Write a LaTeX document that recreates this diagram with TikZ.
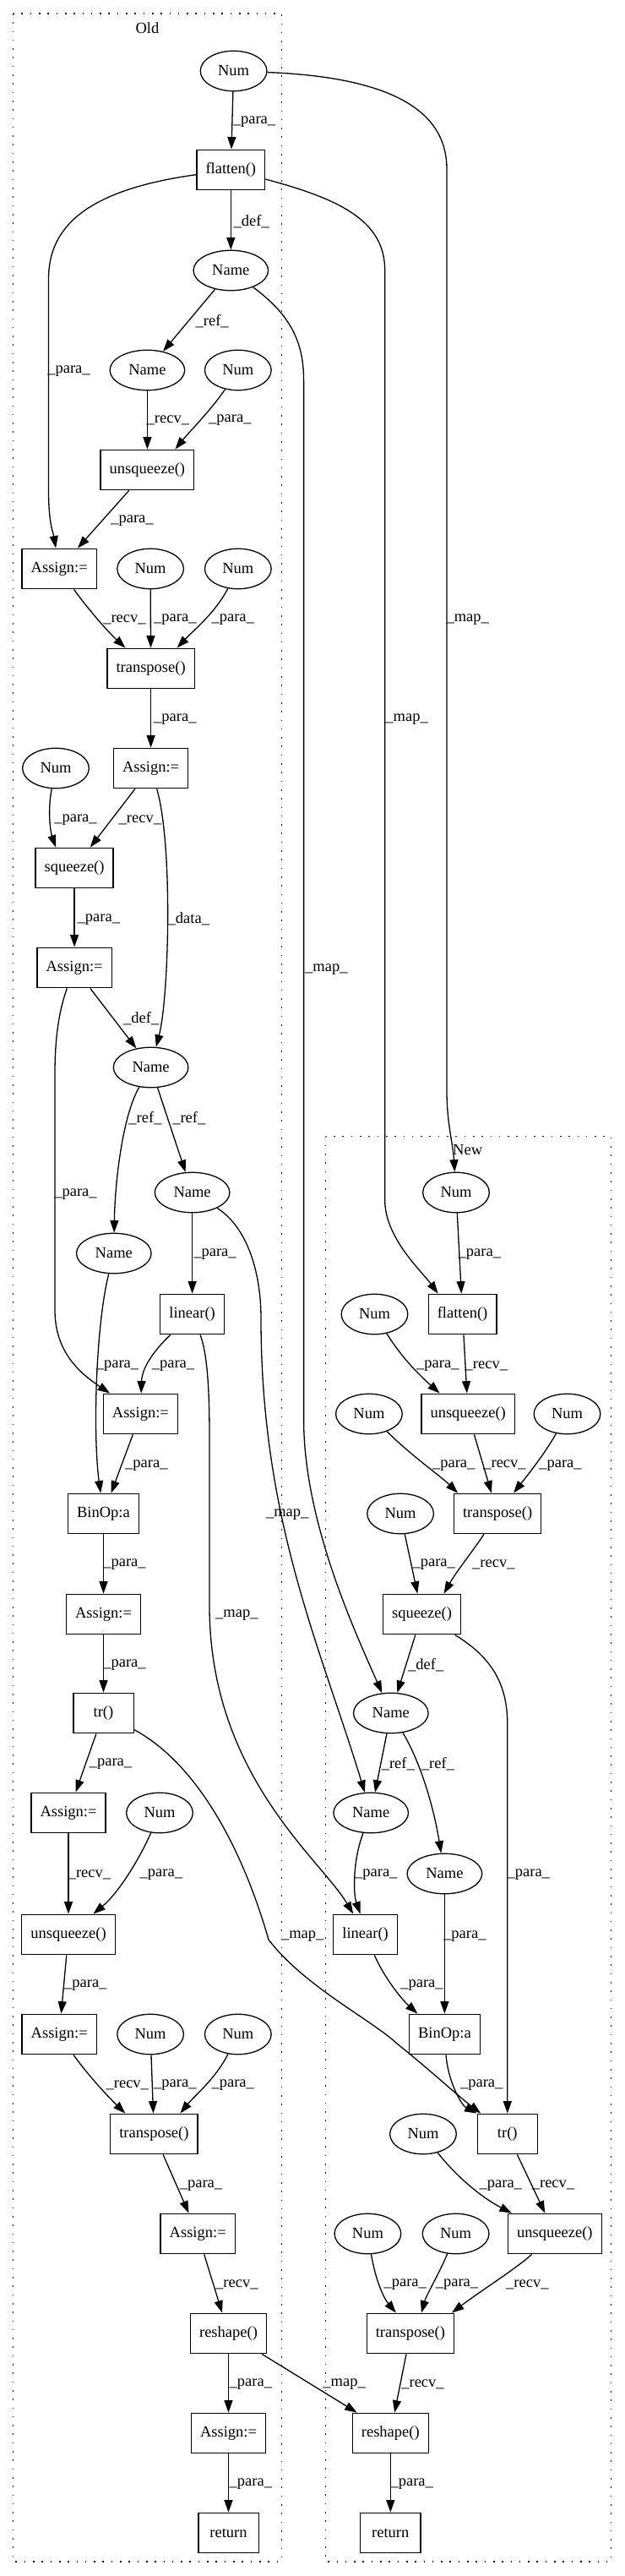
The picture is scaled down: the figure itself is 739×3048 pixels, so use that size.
\documentclass[tikz,border=0pt]{standalone}
\usepackage{fontspec}
\setmainfont{Liberation Serif}
\usetikzlibrary{arrows.meta, shapes.geometric}

\begin{document}
\begin{tikzpicture}[x=1pt, y=-1pt,
    every node/.style={font=\fontsize{18.5}{22}\selectfont},
    box/.style={draw, line width=1.3pt, rectangle, minimum width=71.3pt,
                minimum height=47.5pt, inner xsep=10.6pt, inner ysep=0pt},
    ell/.style={draw, line width=1.3pt, ellipse, minimum width=78.7pt,
                minimum height=47.5pt, inner sep=0pt},
    nm/.style={ell, minimum width=88.6pt},
    arr/.style={-{Triangle[length=14.5pt, width=10pt]}, line width=1.3pt},
    lbl/.style={inner sep=0pt},
    clus/.style={line width=1.3pt, dash pattern=on 1.6pt off 8.7pt}
]
    \useasboundingbox (0,0) rectangle (739,3048);

    % Clusters
    \draw[clus] (15.6,16) rectangle (333.2,3031);
    \node[lbl] (oldlbl) at (174.4,33) {Old};
    \draw[clus] (385.5,1344.5) rectangle (723.4,3031);
    \node[lbl] (newlbl) at (553.7,1361) {New};

    % Old
    \node[ell] (num1) at (276.6,84) {Num};
    \node[box] (fla1) at (273.3,201) {flatten()};
    \node[nm]  (nam1) at (273.3,320) {Name};
    \node[nm]  (nam2) at (174.4,438) {Name};
    \node[ell] (num2) at (281.8,438) {Num};
    \node[box] (uns1) at (174.4,556) {unsqueeze()};
    \node[box] (as1)  at (70.2,673)  {Assign:=};
    \node[ell] (num3) at (178.1,673) {Num};
    \node[ell] (num4) at (281.8,673) {Num};
    \node[box] (tra1) at (178.6,791) {transpose()};
    \node[box] (as2)  at (178.6,909) {Assign:=};
    \node[ell] (num5) at (66,909)    {Num};
    \node[box] (squ1) at (88.1,1027) {squeeze()};
    \node[box] (as3)  at (88.1,1145) {Assign:=};
    \node[nm]  (nam3) at (178.6,1263) {Name};
    \node[nm]  (nam4) at (227.6,1411) {Name};
    \node[nm]  (nam5) at (134.8,1483) {Name};
    \node[box] (lin1) at (227.6,1555) {linear()};
    \node[box] (as4)  at (166.4,1673) {Assign:=};
    \node[box] (bin1) at (122.5,1791) {BinOp:a};
    \node[box] (as5)  at (122.5,1910) {Assign:=};
    \node[box] (tr1)  at (122.5,2027) {tr()};
    \node[box] (as6)  at (81,2145)    {Assign:=};
    \node[ell] (num6) at (189,2145)   {Num};
    \node[box] (uns2) at (81,2289)    {unsqueeze()};
    \node[box] (as7)  at (70.2,2407)  {Assign:=};
    \node[ell] (num7) at (178.1,2407) {Num};
    \node[ell] (num8) at (281.8,2407) {Num};
    \node[box] (tra2) at (182.4,2525) {transpose()};
    \node[box] (as8)  at (234.2,2643) {Assign:=};
    \node[box] (res1) at (270.5,2761) {reshape()};
    \node[box] (as9)  at (270.5,2879) {Assign:=};
    \node[box] (ret1) at (270.5,2997) {return};

    % New
    \node[ell] (num9)  at (540,1411)   {Num};
    \node[box] (fla2)  at (547.6,1555) {flatten()};
    \node[ell] (num10) at (443.5,1555) {Num};
    \node[box] (uns3)  at (554.2,1673) {unsqueeze()};
    \node[ell] (num11) at (436.9,1673) {Num};
    \node[ell] (num12) at (671.5,1673) {Num};
    \node[box] (tra3)  at (589.1,1791) {transpose()};
    \node[ell] (num13) at (474.1,1791) {Num};
    \node[box] (squ2)  at (499.5,1910) {squeeze()};
    \node[nm]  (nam6)  at (462.8,2027) {Name};
    \node[nm]  (nam7)  at (439.2,2145) {Name};
    \node[nm]  (nam8)  at (526.4,2217) {Name};
    \node[box] (lin2)  at (432.6,2289) {linear()};
    \node[box] (bin2)  at (526.4,2407) {BinOp:a};
    \node[box] (tr2)   at (600.8,2525) {tr()};
    \node[ell] (num14) at (501,2525)   {Num};
    \node[box] (uns4)  at (656.9,2643) {unsqueeze()};
    \node[ell] (num15) at (435.4,2643) {Num};
    \node[ell] (num16) at (539.6,2643) {Num};
    \node[box] (tra4)  at (485.9,2761) {transpose()};
    \node[box] (res2)  at (462.3,2879) {reshape()};
    \node[box] (ret2)  at (462.3,2997) {return};

    % Old edges
    \draw[arr] (num1) -- (fla1) node[lbl] at (301,144) {\_para\_};
    \draw[arr] (fla1) -- (nam1) node[lbl] at (297.8,262) {\_def\_};
    \draw[arr] (fla1) .. controls (100,225) and (57.5,270) .. (57.5,330)
        -- (57.5,580) .. controls (57.5,620) and (63,630) .. (as1)
        node[lbl] at (81.5,439) {\_para\_};
    \draw[arr] (nam1) -- (nam2) node[lbl] at (251.2,380) {\_ref\_};
    \draw[arr] (nam2) -- (uns1) node[lbl] at (198.9,497) {\_recv\_};
    \draw[arr] (num2) .. controls (250,485) and (225,510) .. ([xshift=33pt]uns1.north)
        node[lbl] at (272.4,497) {\_para\_};
    \draw[arr] (uns1) -- (as1) node[lbl] at (156.5,616) {\_para\_};
    \draw[arr] (as1) .. controls (100,715) and (125,745) .. ([xshift=-30pt]tra1.north)
        node[lbl] at (147.5,733) {\_recv\_};
    \draw[arr] (num3) -- (tra1) node[lbl] at (207.4,733) {\_para\_};
    \draw[arr] (num4) .. controls (255,725) and (230,745) .. ([xshift=31pt]tra1.north)
        node[lbl] at (275.7,733) {\_para\_};
    \draw[arr] (tra1) -- (as2) node[lbl] at (207.4,851.5) {\_para\_};
    \draw[arr] (num5) .. controls (56,960) and (60,985) .. ([xshift=-22pt]squ1.north)
        node[lbl] at (89.5,970) {\_para\_};
    \draw[arr] (as2) -- (squ1) node[lbl] at (165.9,970) {\_recv\_};
    \draw[arr] (as2) .. controls (205,1000) and (200,1180) .. (nam3)
        node[lbl] at (223.4,1087.6) {\_data\_};
    \draw[arr] (squ1) -- (as3) node[lbl] at (116.9,1087.6) {\_para\_};
    \draw[arr] (as3) -- (nam3) node[lbl] at (167.3,1205.3) {\_def\_};
    \draw[arr] (as3) .. controls (72,1190) and (65,1220) .. (65,1270)
        -- (65,1550) .. controls (65,1600) and (95,1625) .. (as4)
        node[lbl] at (89.5,1412.8) {\_para\_};
    \draw[arr] (nam3) .. controls (145,1320) and (136,1400) .. (nam5)
        node[lbl] at (172,1323.6) {\_ref\_};
    \draw[arr] (nam3) -- (nam4) node[lbl] at (223.8,1323.6) {\_ref\_};
    \draw[arr] (nam4) -- (lin1) node[lbl] at (254.5,1484.5) {\_para\_};
    \draw[arr] (nam5) .. controls (113,1570) and (110,1700) .. (bin1)
        node[lbl] at (139,1616.2) {\_para\_};
    \draw[arr] (lin1) .. controls (180,1600) and (168,1620) .. (as4)
        node[lbl] at (205,1616.2) {\_para\_};
    \draw[arr] (as4) -- (bin1) node[lbl] at (173.4,1733.6) {\_para\_};
    \draw[arr] (bin1) -- (as5) node[lbl] at (147.5,1851.4) {\_para\_};
    \draw[arr] (as5) -- (tr1) node[lbl] at (147.5,1969.8) {\_para\_};
    \draw[arr] (tr1) -- (as6) node[lbl] at (131,2087.1) {\_para\_};
    \draw[arr] (as6) -- (uns2) node[lbl] at (106,2218.3) {\_recv\_};
    \draw[arr] (num6) .. controls (165,2200) and (140,2240) .. (uns2)
        node[lbl] at (190.9,2218.3) {\_para\_};
    \draw[arr] (uns2) -- (as7) node[lbl] at (101.3,2349.4) {\_para\_};
    \draw[arr] (as7) .. controls (100,2450) and (125,2478) .. ([xshift=-34pt]tra2.north)
        node[lbl] at (150.8,2467) {\_recv\_};
    \draw[arr] (num7) -- (tra2) node[lbl] at (207.4,2467) {\_para\_};
    \draw[arr] (num8) .. controls (255,2460) and (230,2480) .. ([xshift=31pt]tra2.north)
        node[lbl] at (275.7,2467) {\_para\_};
    \draw[arr] (tra2) -- (as8) node[lbl] at (238,2585.6) {\_para\_};
    \draw[arr] (as8) -- (res1) node[lbl] at (280.4,2703.2) {\_recv\_};
    \draw[arr] (res1) -- (as9) node[lbl] at (296.9,2821.3) {\_para\_};
    \draw[arr] (as9) -- (ret1) node[lbl] at (296.9,2939.4) {\_para\_};

    % Map edges from Old to New
    \draw[arr] (num1) .. controls (480,92) and (529,140) .. (529,200)
        -- (529,1290) .. controls (529,1330) and (536,1350) .. (num9)
        node[lbl] at (553.7,733.4) {\_map\_};
    \draw[arr] (fla1) .. controls (400,235) and (455.7,260) .. (455.7,320)
        -- (455.7,1420) .. controls (455.7,1465) and (500,1505) .. ([xshift=-29pt]fla2.north)
        node[lbl] at (481.6,851.5) {\_map\_};
    \draw[arr] (nam1) .. controls (340,370) and (359.6,400) .. (359.6,450)
        -- (359.6,1680) .. controls (359.6,1800) and (420,1930) .. (nam6)
        node[lbl] at (386.4,1147) {\_map\_};
    \draw[arr] (nam4) .. controls (290,1450) and (309,1500) .. (309,1560)
        .. controls (309,1800) and (380,1950) .. (nam7)
        node[lbl] at (340.2,1792.2) {\_map\_};
    \draw[arr] (lin1) .. controls (245,1600) and (248,1640) .. (248,1700)
        -- (248,1900) .. controls (248,2100) and (380,2200) .. (lin2)
        node[lbl] at (280.4,1911.1) {\_map\_};
    \draw[arr] (tr1) .. controls (230,2085) and (285,2180) .. (318,2295)
        .. controls (360,2350) and (440,2390) .. (470,2418)
        .. controls (510,2450) and (540,2478) .. (tr2)
        node[lbl] at (358.2,2291.2) {\_map\_};
    \draw[arr] (res1) -- (res2) node[lbl] at (407.6,2821.3) {\_map\_};

    % New edges
    \draw[arr] (num9) -- (fla2) node[lbl] at (567.9,1484.5) {\_para\_};
    \draw[arr] (fla2) -- (uns3) node[lbl] at (575.9,1616.2) {\_recv\_};
    \draw[arr] (num10) .. controls (478,1610) and (500,1630) .. ([xshift=-33.5pt]uns3.north)
        node[lbl] at (518.4,1616.2) {\_para\_};
    \draw[arr] (num11) .. controls (490,1725) and (520,1745) .. ([xshift=-47pt]tra3.north)
        node[lbl] at (537.2,1733.6) {\_para\_};
    \draw[arr] (uns3) -- (tra3) node[lbl] at (597.5,1733.6) {\_recv\_};
    \draw[arr] (num12) .. controls (645,1720) and (625,1745) .. ([xshift=19pt]tra3.north)
        node[lbl] at (663.5,1733.6) {\_para\_};
    \draw[arr] (num13) -- (squ2) node[lbl] at (513.7,1851.4) {\_para\_};
    \draw[arr] (tra3) .. controls (560,1835) and (540,1860) .. ([xshift=26pt]squ2.north)
        node[lbl] at (584.4,1851.4) {\_recv\_};
    \draw[arr] (squ2) -- (nam6) node[lbl] at (504.2,1969.8) {\_def\_};
    \draw[arr] (squ2) .. controls (580,1960) and (600.8,1990) .. (600.8,2040) -- (tr2)
        node[lbl] at (625.8,2218.3) {\_para\_};
    \draw[arr] (nam6) -- (nam7) node[lbl] at (471.3,2087.1) {\_ref\_};
    \draw[arr] (nam6) .. controls (495,2080) and (512,2130) .. (nam8)
        node[lbl] at (518.4,2087.1) {\_ref\_};
    \draw[arr] (nam7) .. controls (418,2200) and (418,2240) .. ([xshift=-6pt]lin2.north)
        node[lbl] at (445.3,2218.3) {\_para\_};
    \draw[arr] (nam8) -- (bin2) node[lbl] at (550.4,2291.2) {\_para\_};
    \draw[arr] (lin2) .. controls (455,2340) and (475,2365) .. ([xshift=-32pt]bin2.north)
        node[lbl] at (499.5,2349.4) {\_para\_};
    \draw[arr] (bin2) .. controls (530,2460) and (545,2490) .. (tr2.north west)
        node[lbl] at (570.2,2467) {\_para\_};
    \draw[arr] (num14) .. controls (540,2575) and (570,2600) .. ([xshift=-51pt]uns4.north)
        node[lbl] at (592.8,2585.6) {\_para\_};
    \draw[arr] (tr2) -- (uns4) node[lbl] at (655,2585.6) {\_recv\_};
    \draw[arr] (num15) .. controls (445,2700) and (455,2720) .. ([xshift=-17pt]tra4.north)
        node[lbl] at (479.7,2703.2) {\_para\_};
    \draw[arr] (num16) .. controls (520,2690) and (505,2715) .. ([xshift=13pt]tra4.north)
        node[lbl] at (541,2703.2) {\_para\_};
    \draw[arr] (uns4) .. controls (610,2685) and (570,2710) .. ([xshift=49pt]tra4.north)
        node[lbl] at (624.4,2703.2) {\_recv\_};
    \draw[arr] (tra4) -- (res2) node[lbl] at (500.5,2821.3) {\_recv\_};
    \draw[arr] (res2) -- (ret2) node[lbl] at (487.7,2939.4) {\_para\_};
\end{tikzpicture}
\end{document}
